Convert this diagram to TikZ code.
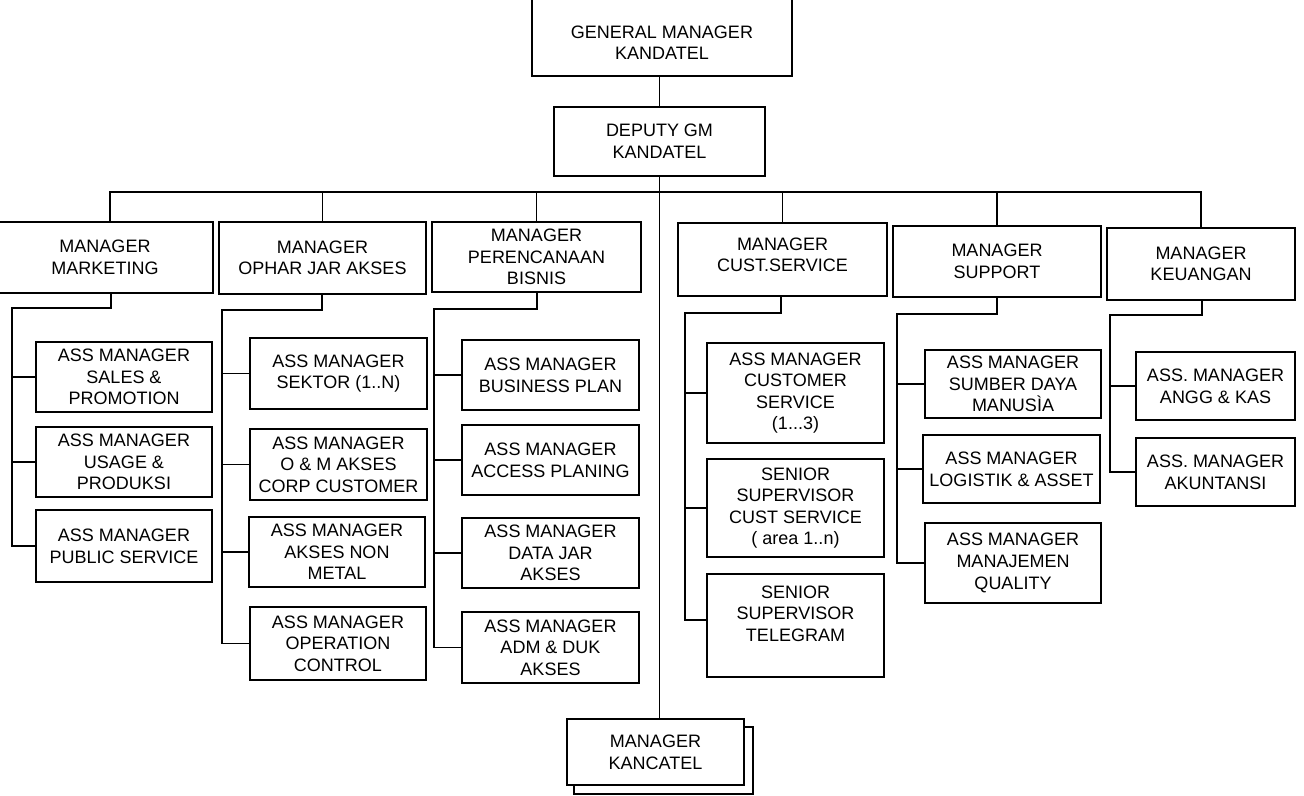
\documentclass[tikz,border=0pt]{standalone}
\usepackage{fontspec}
\setmainfont{Liberation Sans}
\newcommand{\orgbox}[6]{%
  \node[box, minimum width={(#4-(#2))*0.75pt}, minimum height={(#5-(#3))*0.75pt}]
    (#1) at ({(#2+#4)/2},{(#3+#5)/2}) {#6};}
\begin{document}
\begin{tikzpicture}[x=0.75pt,y=-0.75pt,
  box/.style={draw, line width=0.9pt, inner sep=0pt, outer sep=0pt, align=center,
    font=\fontsize{13.5}{16.2}\selectfont, fill=white},
  conn/.style={line width=0.9pt}]
\fill[white] (0,0) rectangle (1304,796);
\useasboundingbox (0,0) rectangle (1304,796);

% top
\orgbox{gm}{532}{-5}{792}{76}{\rule{0pt}{20pt}GENERAL MANAGER\\KANDATEL}
\orgbox{dep}{554}{107}{765}{176}{DEPUTY GM\\KANDATEL}

% managers
\orgbox{mkt}{-3}{222}{213}{293}{MANAGER\\MARKETING}
\orgbox{opr}{219}{222}{426}{294}{MANAGER\\OPHAR JAR AKSES}
\orgbox{ren}{432}{222}{641}{292}{MANAGER\\PERENCANAAN\\BISNIS}
\orgbox{cs}{678}{223}{887}{296}{MANAGER\\CUST.SERVICE\\[-9pt]\mbox{}}
\orgbox{sup}{893}{226}{1101}{297}{MANAGER\\SUPPORT}
\orgbox{keu}{1107}{228}{1295}{300}{MANAGER\\KEUANGAN}

% marketing children
\orgbox{sal}{36}{342}{212}{412}{ASS MANAGER\\SALES \&\\PROMOTION}
\orgbox{usa}{36}{427}{212}{497}{ASS MANAGER\\USAGE \&\\PRODUKSI}
\orgbox{pub}{36}{510}{212}{582}{ASS MANAGER\\PUBLIC SERVICE}

% ophar children
\orgbox{sek}{250}{338}{427}{409}{ASS MANAGER\\SEKTOR (1..N)}
\orgbox{om}{250}{429}{427}{500}{ASS MANAGER\\O \& M AKSES\\CORP CUSTOMER}
\orgbox{non}{249}{517}{425}{587}{ASS MANAGER\\AKSES NON\\METAL}
\orgbox{opc}{250}{607}{426}{680}{ASS MANAGER\\OPERATION\\CONTROL}

% perencanaan children
\orgbox{bp}{462}{340}{639}{410}{ASS MANAGER\\BUSINESS PLAN}
\orgbox{ap}{462}{425}{639}{495}{ASS MANAGER\\ACCESS PLANING}
\orgbox{dj}{462}{518}{639}{588}{ASS MANAGER\\DATA JAR\\AKSES}
\orgbox{adm}{462}{612}{639}{683}{ASS MANAGER\\ADM \& DUK\\AKSES}

% cust service children
\orgbox{csv}{707}{343}{884}{443}{ASS MANAGER\\CUSTOMER\\SERVICE\\(1...3)}
\orgbox{scs}{707}{459}{884}{557}{SENIOR\\SUPERVISOR\\CUST SERVICE\\( area 1..n)}
\orgbox{tel}{707}{574}{884}{677}{SENIOR\\SUPERVISOR\\TELEGRAM\\[2pt]\mbox{}}

% support children
\orgbox{sdm}{925}{350}{1101}{418}{ASS MANAGER\\SUMBER DAYA\\MANUSÌA}
\orgbox{log}{923}{435}{1100}{503}{ASS MANAGER\\LOGISTIK \& ASSET}
\orgbox{qua}{925}{523}{1101}{603}{ASS MANAGER\\MANAJEMEN\\QUALITY}

% keuangan children
\orgbox{ang}{1136}{352}{1295}{420}{ASS. MANAGER\\ANGG \& KAS}
\orgbox{aku}{1136}{438}{1295}{506}{ASS. MANAGER\\AKUNTANSI}

% kancatel with shadow
\orgbox{kansh}{574}{727}{753}{794}{}
\orgbox{kan}{567}{719}{744}{785}{MANAGER\\KANCATEL}

% main trunk
\draw[conn] (dep.north |- gm.south) -- (dep.north);
\draw[conn] (dep.south) -- (dep.south |- kan.north);

% bus
\coordinate (busL) at (110,192);
\draw[conn] (busL |- mkt.north) -- (busL) -- (keu.north |- busL) -- (keu.north);
\foreach \n in {opr,ren,cs,sup}
  \draw[conn] (\n.north |- busL) -- (\n.north);

% marketing subtree
\coordinate (mE) at (111,308);
\coordinate (mS) at (12,308);
\draw[conn] (mE |- mkt.south) -- (mE) -- (mS) -- (mS |- pub.west) -- (pub.west);
\draw[conn] (mS |- sal.west) -- (sal.west);
\draw[conn] (mS |- usa.west) -- (usa.west);

% ophar subtree
\coordinate (oE) at (322,310);
\coordinate (oS) at (222,310);
\draw[conn] (oE |- opr.south) -- (oE) -- (oS) -- (oS |- opc.west) -- (opc.west);
\draw[conn] (oS |- sek.west) -- (sek.west);
\draw[conn] (oS |- om.west) -- (om.west);
\draw[conn] (oS |- non.west) -- (non.west);

% perencanaan subtree
\coordinate (rE) at (537,309);
\coordinate (rS) at (434,309);
\draw[conn] (rE |- ren.south) -- (rE) -- (rS) -- (rS |- adm.west) -- (adm.west);
\draw[conn] (rS |- bp.west) -- (bp.west);
\draw[conn] (rS |- ap.west) -- (ap.west);
\draw[conn] (rS |- dj.west) -- (dj.west);

% cust service subtree
\coordinate (cE) at (781,313);
\coordinate (cS) at (685,313);
\coordinate (cT) at (685,620);
\draw[conn] (cE |- cs.south) -- (cE) -- (cS) -- (cT) -- (cT -| tel.west);
\draw[conn] (cS |- csv.west) -- (csv.west);
\draw[conn] (cS |- scs.west) -- (scs.west);

% support subtree
\coordinate (sE) at (997,314);
\coordinate (sS) at (897,314);
\draw[conn] (sE |- sup.south) -- (sE) -- (sS) -- (sS |- qua.west) -- (qua.west);
\draw[conn] (sS |- sdm.west) -- (sdm.west);
\draw[conn] (sS |- log.west) -- (log.west);

% keuangan subtree
\coordinate (kE) at (1202,315);
\coordinate (kS) at (1110,315);
\draw[conn] (kE |- keu.south) -- (kE) -- (kS) -- (kS |- aku.west) -- (aku.west);
\draw[conn] (kS |- ang.west) -- (ang.west);
\end{tikzpicture}
\end{document}
